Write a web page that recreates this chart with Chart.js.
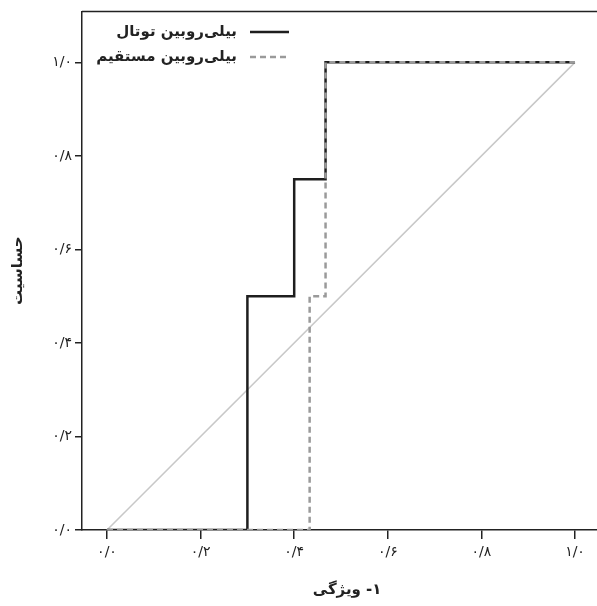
<!DOCTYPE html>
<html><head><meta charset="utf-8">
<script src="https://cdn.jsdelivr.net/npm/chart.js@4/dist/chart.umd.min.js"></script>
<style>html,body{margin:0;padding:0;background:#fff}#wrap{width:597px;height:606px}</style>
</head><body>
<div id="wrap"><canvas id="c"></canvas></div>
<script>
const tickValues = [0, 0.2, 0.4, 0.6, 0.8, 1.0];
const tickLabels = ['۰/۰', '۰/۲', '۰/۴', '۰/۶', '۰/۸', '۱/۰'];
const seriesNames = ['بیلی‌روبین توتال', 'بیلی‌روبین مستقیم'];
const totalFPR = [0, 0.3, 0.3, 0.4, 0.4, 0.467, 0.467, 1];
const totalTPR = [0, 0, 0.5, 0.5, 0.75, 0.75, 1, 1];
const directFPR = [0, 0.433, 0.433, 0.467, 0.467, 1];
const directTPR = [0, 0, 0.5, 0.5, 1, 1];
const refFPR = [0, 1];
const refTPR = [0, 1];
const xTitleWord = 'ویژگی';
const xTitleNum = '-۱';
const yTitle = 'حساسیت';

const FONT = '"DejaVu Sans", sans-serif';
const pts = (xs, ys) => xs.map((x, i) => ({x: x, y: ys[i]}));
const labelFor = v => {
  const i = tickValues.findIndex(t => Math.abs(t - v) < 1e-6);
  return i >= 0 ? tickLabels[i] : '';
};

const extrasPlugin = {
  id: 'extras',
  afterDraw(chart) {
    const ctx = chart.ctx;
    const ca = chart.chartArea;
    ctx.save();
    ctx.direction = 'ltr';
    // top frame line
    ctx.strokeStyle = '#222';
    ctx.lineWidth = 1.5;
    ctx.beginPath();
    ctx.moveTo(ca.left, ca.top);
    ctx.lineTo(ca.right, ca.top);
    ctx.stroke();
    // x-axis title: word on the left, "-۱" on the right
    ctx.font = 'bold 15px ' + FONT;
    ctx.fillStyle = '#222';
    ctx.textBaseline = 'middle';
    const gap = 5;
    const wW = ctx.measureText(xTitleWord).width;
    const wN = ctx.measureText(xTitleNum).width;
    const total = wW + gap + wN;
    const cx = 347, ty = 590;
    const x0 = cx - total / 2;
    ctx.textAlign = 'left';
    ctx.fillText(xTitleWord, x0, ty);
    ctx.fillText(xTitleNum, x0 + wW + gap, ty);
    // legend (RTL: text left of the line sample)
    const textRight = 237, lineL = 250, lineR = 289;
    seriesNames.forEach((name, i) => {
      const d = chart.data.datasets.find(ds => ds.label === name);
      const y = 32 + i * 25;
      ctx.strokeStyle = d.borderColor;
      ctx.lineWidth = d.borderWidth;
      ctx.setLineDash(d.borderDash || []);
      ctx.beginPath();
      ctx.moveTo(lineL, y);
      ctx.lineTo(lineR, y);
      ctx.stroke();
      ctx.setLineDash([]);
      ctx.fillStyle = '#222';
      ctx.font = 'bold 15px ' + FONT;
      ctx.textAlign = 'right';
      ctx.textBaseline = 'middle';
      ctx.fillText(d.label, textRight, y);
    });
    ctx.restore();
  }
};

new Chart(document.getElementById('c'), {
  type: 'line',
  data: {
    datasets: [
      {label: seriesNames[0], data: pts(totalFPR, totalTPR), borderColor: '#1e1e1e', borderWidth: 2.5, order: 1},
      {label: seriesNames[1], data: pts(directFPR, directTPR), borderColor: '#9a9a9a', borderWidth: 2.5, borderDash: [6, 4], order: 0},
      {label: 'ref', data: pts(refFPR, refTPR), borderColor: '#c8c8c8', borderWidth: 1.5, order: 2}
    ]
  },
  options: {
    responsive: true,
    maintainAspectRatio: false,
    animation: false,
    devicePixelRatio: 1,
    layout: {padding: {top: 11, right: 0, left: 0, bottom: 0}},
    elements: {point: {radius: 0, hoverRadius: 0}, line: {tension: 0}},
    plugins: {legend: {display: false}, tooltip: {enabled: false}},
    scales: {
      x: {
        type: 'linear',
        min: -0.0534,
        max: 1.047,
        afterBuildTicks: s => { s.ticks = tickValues.map(v => ({value: v})); },
        afterFit: s => { s.height = 76; },
        grid: {drawOnChartArea: false, drawTicks: true, tickLength: 9, color: '#222', lineWidth: 1.5},
        border: {display: true, color: '#222', width: 1.5},
        ticks: {callback: v => labelFor(v), color: '#222', font: {family: FONT, size: 14}, padding: 5, maxRotation: 0, autoSkip: false},
        title: {display: false}
      },
      y: {
        type: 'linear',
        min: 0,
        max: 1.109,
        afterBuildTicks: s => { s.ticks = tickValues.map(v => ({value: v})); },
        afterFit: s => { s.width = 82; },
        grid: {drawOnChartArea: false, drawTicks: true, tickLength: 7, color: '#222', lineWidth: 1.5},
        border: {display: true, color: '#222', width: 1.5},
        ticks: {callback: v => labelFor(v), color: '#222', font: {family: FONT, size: 14}, padding: 3, autoSkip: false},
        title: {display: true, text: yTitle, color: '#222', font: {family: FONT, size: 15, weight: 'bold'}, padding: {top: 9, bottom: 0}}
      }
    }
  },
  plugins: [extrasPlugin]
});
</script>
</body></html>
